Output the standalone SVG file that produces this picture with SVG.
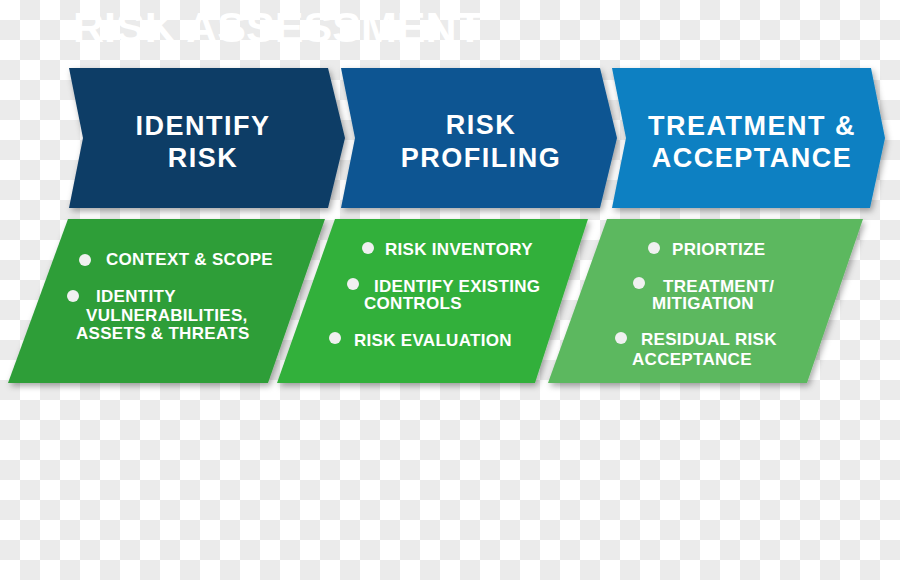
<svg xmlns="http://www.w3.org/2000/svg" width="900" height="580" viewBox="0 0 900 580">
  <defs>
    <pattern id="checker" x="0" y="0" width="40" height="40" patternUnits="userSpaceOnUse">
      <rect width="40" height="40" fill="#ffffff"/>
      <rect x="20" y="0" width="20" height="20" fill="#ebebeb"/>
      <rect x="0" y="20" width="20" height="20" fill="#ebebeb"/>
    </pattern>
    <filter id="shadow" x="-10%" y="-10%" width="125%" height="130%">
      <feDropShadow dx="2" dy="3" stdDeviation="3" flood-color="#000" flood-opacity="0.35"/>
    </filter>
  </defs>
  <style>
    .title { font-family: "Liberation Sans", Arial, sans-serif; font-weight: bold; font-size: 42px; fill: #ffffff; }
    .head { font-family: "Liberation Sans", Arial, sans-serif; font-weight: bold; font-size: 27px; fill: #ffffff; text-anchor: middle; letter-spacing: 1.5px; }
    .item { font-family: "Liberation Sans", Arial, sans-serif; font-weight: bold; font-size: 17px; fill: #ffffff; letter-spacing: 0.3px; }
    .dot { fill: #f0f0f0; }
  </style>
  <rect width="900" height="580" fill="url(#checker)"/>
  <text class="title" x="73" y="42" textLength="410" lengthAdjust="spacingAndGlyphs">RISK ASSESSMENT</text>

  <g id="identify-risk">
    <polygon points="69,68 328,68 345,138 328,208 69,208 83,138" fill="#0e3d66" filter="url(#shadow)"/>
    <text class="head" x="203" y="135">IDENTIFY</text>
    <text class="head" x="203" y="167">RISK</text>
  </g>
  <g id="risk-profiling">
    <polygon points="341,68 600,68 617,138 600,208 341,208 355,138" fill="#0a5592" filter="url(#shadow)"/>
    <text class="head" x="481" y="134">RISK</text>
    <text class="head" x="481" y="167">PROFILING</text>
  </g>
  <g id="treatment-acceptance">
    <polygon points="612,68 871,68 885,138 870,208 612,208 626,138" fill="#0a80c2" filter="url(#shadow)"/>
    <text class="head" x="752" y="135">TREATMENT &amp;</text>
    <text class="head" x="752" y="167">ACCEPTANCE</text>
  </g>

  <g id="identify-details">
    <polygon points="68,219 325,219 268,383 8,383" fill="#2e9e38" filter="url(#shadow)"/>
    <circle class="dot" cx="85" cy="260" r="6"/>
    <text class="item" x="106" y="265">CONTEXT &amp; SCOPE</text>
    <circle class="dot" cx="73" cy="296" r="6"/>
    <text class="item" x="96" y="302">IDENTITY</text>
    <text class="item" x="86" y="321">VULNERABILITIES,</text>
    <text class="item" x="76" y="339">ASSETS &amp; THREATS</text>
  </g>
  <g id="profiling-details">
    <polygon points="335,219 588,219 535,383 277,383" fill="#33b03b" filter="url(#shadow)"/>
    <circle class="dot" cx="368" cy="248" r="6"/>
    <text class="item" x="385" y="255">RISK INVENTORY</text>
    <circle class="dot" cx="353" cy="284" r="6"/>
    <text class="item" x="374" y="292">IDENTIFY EXISTING</text>
    <text class="item" x="364" y="309">CONTROLS</text>
    <circle class="dot" cx="335" cy="338" r="6"/>
    <text class="item" x="354" y="346">RISK EVALUATION</text>
  </g>
  <g id="treatment-details">
    <polygon points="607,219 863,219 807,383 548,383" fill="#5cb85f" filter="url(#shadow)"/>
    <circle class="dot" cx="654" cy="248" r="6"/>
    <text class="item" x="672" y="255">PRIORTIZE</text>
    <circle class="dot" cx="639" cy="283" r="6"/>
    <text class="item" x="663" y="292">TREATMENT/</text>
    <text class="item" x="652" y="309">MITIGATION</text>
    <circle class="dot" cx="621" cy="338" r="6"/>
    <text class="item" x="641" y="345">RESIDUAL RISK</text>
    <text class="item" x="632" y="365">ACCEPTANCE</text>
  </g>
  <g id="connectors"/>
</svg>
